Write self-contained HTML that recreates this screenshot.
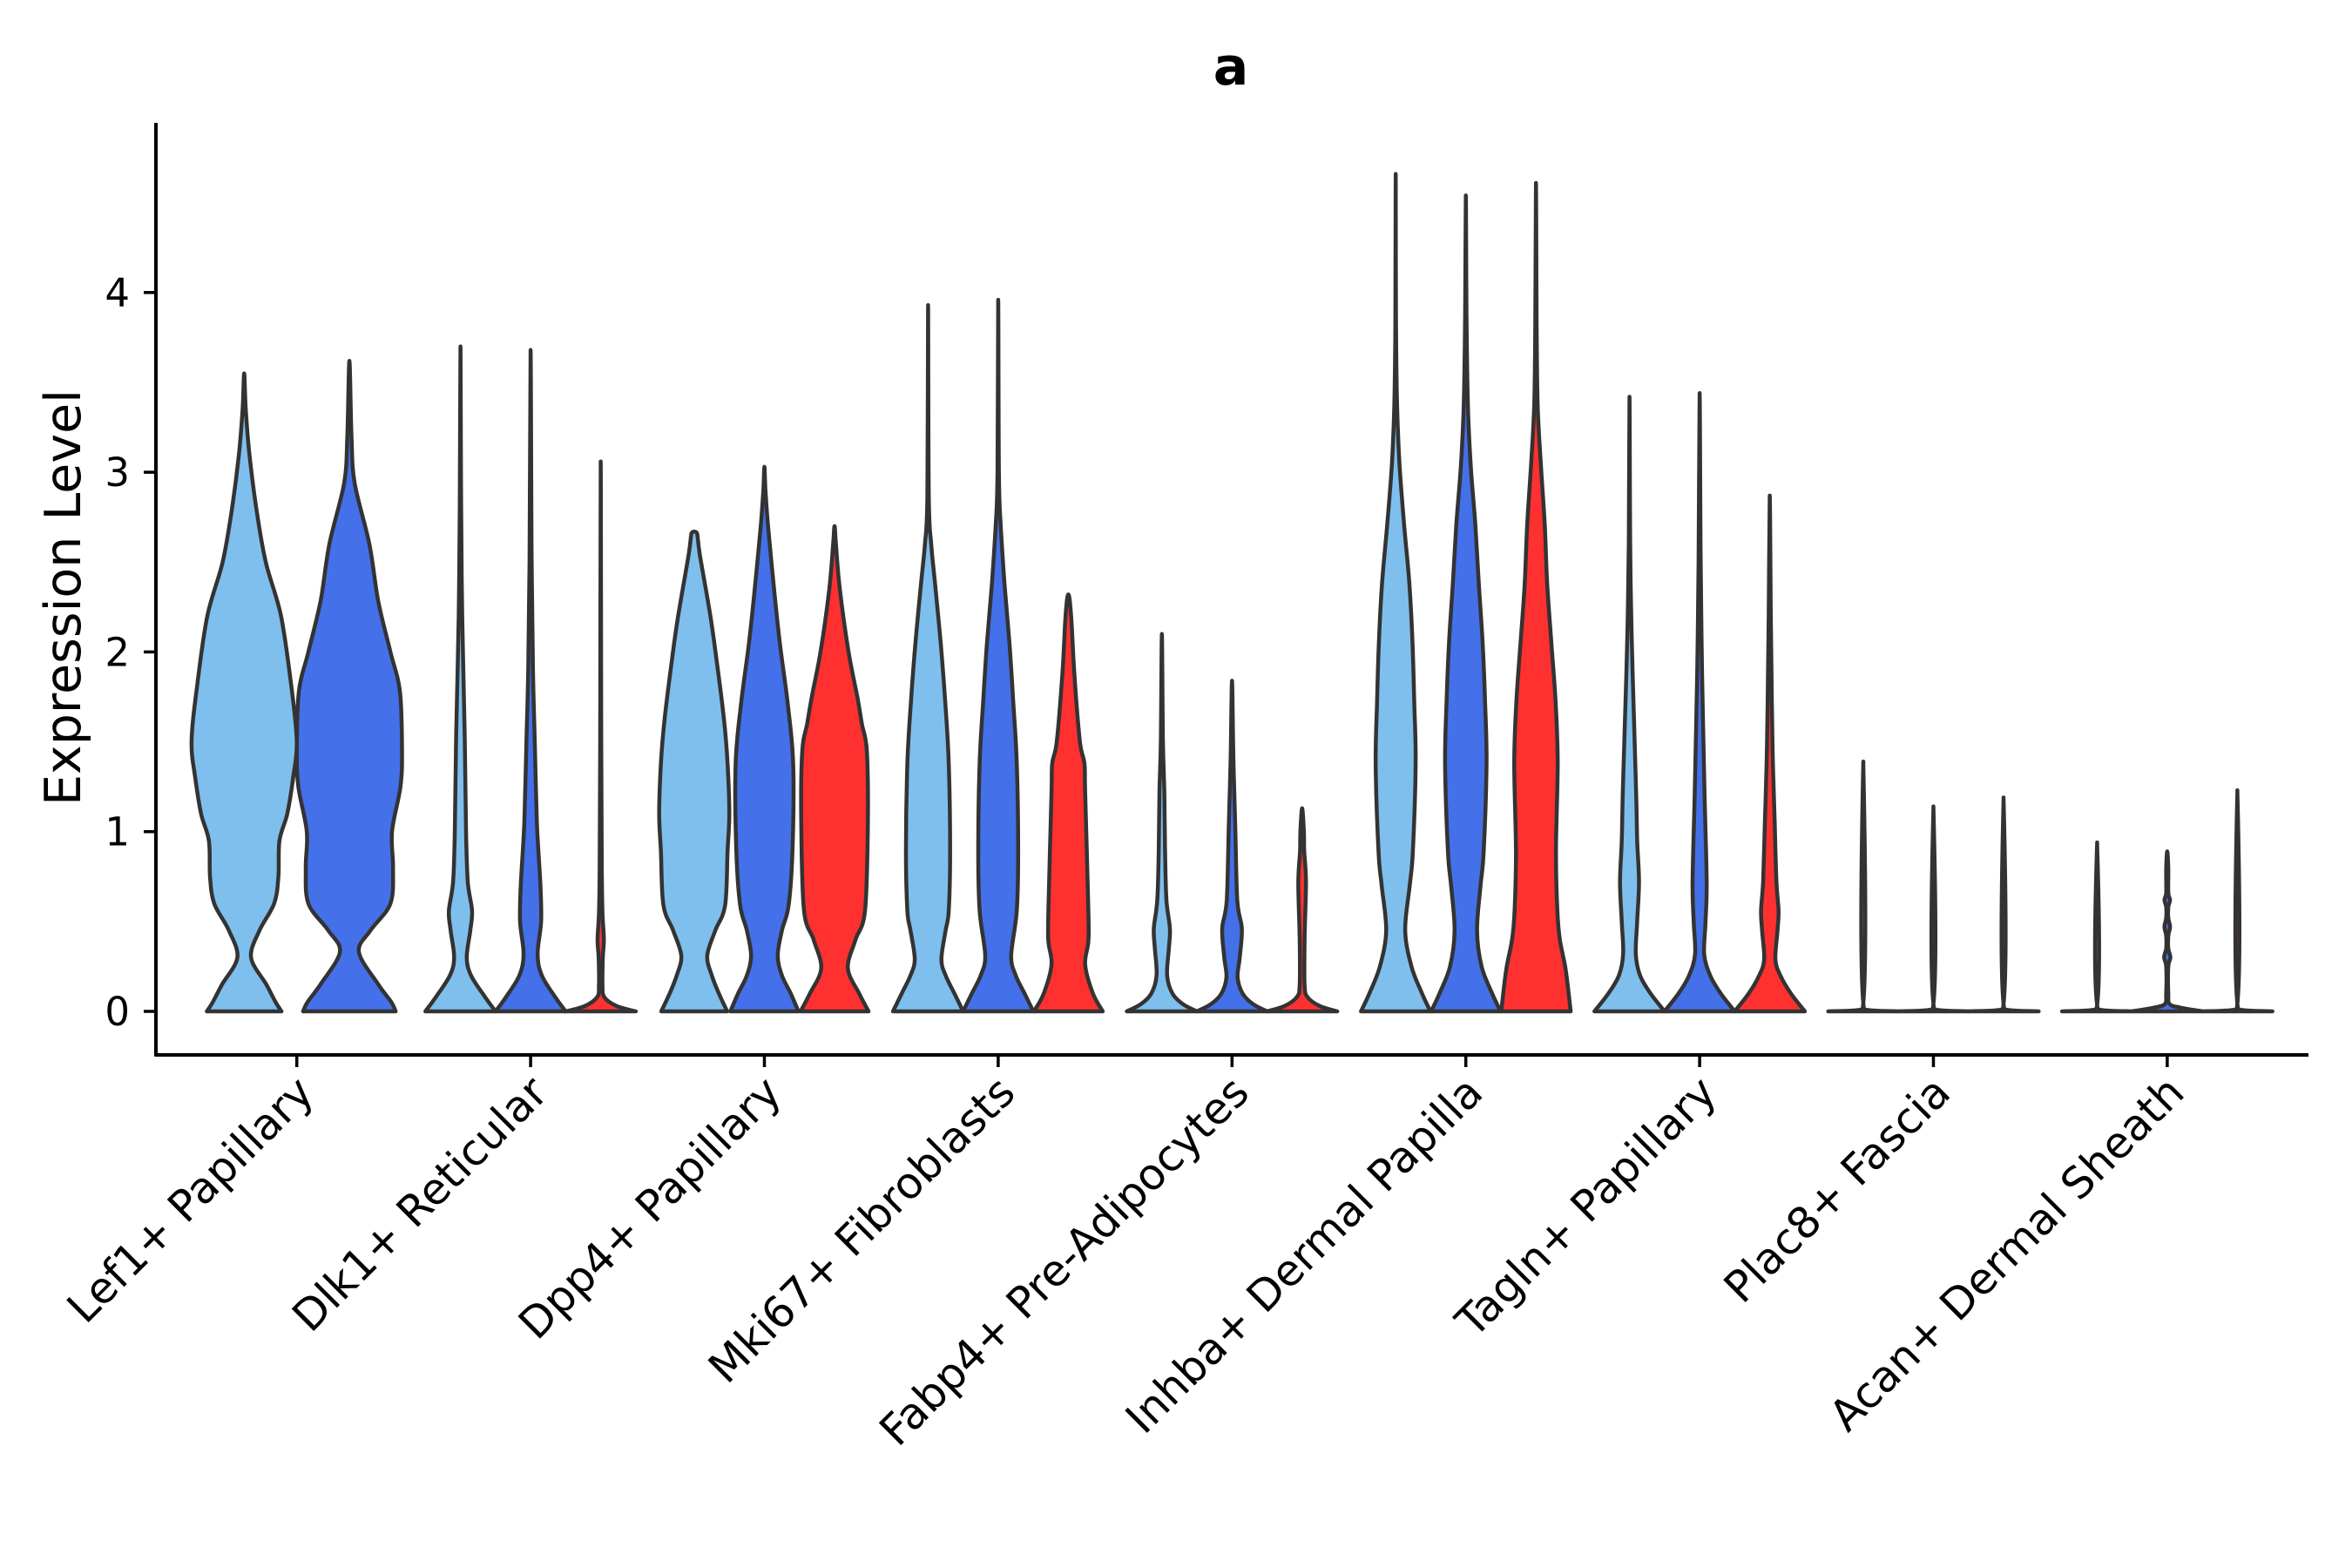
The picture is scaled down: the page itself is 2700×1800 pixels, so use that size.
<!DOCTYPE html>
<html><head><meta charset="utf-8"><style>
html,body{margin:0;padding:0;background:#fff;}
svg{display:block;font-family:"DejaVu Sans","Liberation Sans",sans-serif;}
</style></head><body>
<svg id="chart" width="2700" height="1800" viewBox="0 0 2700 1800" xmlns="http://www.w3.org/2000/svg">
<text x="1413" y="97" text-anchor="middle" font-size="60" font-weight="bold">a</text>
<text transform="translate(92,686) rotate(-90)" text-anchor="middle" font-size="57">Expression Level</text>
<g id="plot"></g>
</svg>
<script>
const categories = ["Lef1+ Papillary","Dlk1+ Reticular","Dpp4+ Papillary","Mki67+ Fibroblasts","Fabp4+ Pre-Adipocytes","Inhba+ Dermal Papilla","Tagln+ Papillary","Plac8+ Fascia","Acan+ Dermal Sheath"];
const groupNames = ["light","dark","red"];
const groupColors = ["#7fbfed","#4470ea","#ff3030"];
const yTicks = [0,1,2,3,4];
// violin profiles: [expression value, relative half-width]
const lef1Light=[[0,.71],[.05,.6],[.15,.42],[.3,.13],[.45,.29],[.6,.57],[.75,.65],[.95,.67],[1.1,.82],[1.3,.93],[1.5,1],[1.8,.9],[2.2,.7],[2.5,.41],[2.8,.23],[3.1,.1],[3.35,.03],[3.55,0]];
const lef1Dark=[[0,.88],[.05,.8],[.15,.55],[.33,.18],[.45,.4],[.6,.78],[.8,.83],[1.0,.81],[1.25,.97],[1.45,1],[1.78,.96],[2.0,.78],[2.28,.55],[2.6,.38],[2.94,.1],[3.2,.04],[3.62,0]];
const dlk1Light=[[0,1],[.08,.7],[.2,.3],[.3,.18],[.45,.28],[.56,.33],[.72,.21],[1.0,.16],[1.55,.12],[2.2,.05],[2.8,.02],[3.7,0]];
const dlk1Dark=[[0,1],[.08,.7],[.2,.32],[.32,.2],[.5,.3],[.7,.28],[1.05,.18],[1.5,.12],[1.88,.07],[2.5,.03],[3.68,0]];
const dlk1Red=[[0,1],[.03,.45],[.08,.1],[.15,.05],[.3,.06],[.4,.09],[.55,.05],[.8,.03],[1.5,.015],[3.06,0]];
const dpp4Light=[[0,.94],[.1,.7],[.2,.5],[.31,.37],[.45,.6],[.59,.88],[.89,.95],[1.1,1],[1.38,.95],[1.62,.85],[1.95,.64],[2.2,.46],[2.54,.16],[2.66,.08],[2.67,0]];
const dpp4Dark=[[0,.97],[.1,.75],[.2,.5],[.31,.38],[.45,.5],[.59,.69],[.89,.8],[1.38,.82],[1.72,.66],[2.05,.44],[2.38,.26],[2.71,.1],[2.9,.03],[3.03,0]];
const dpp4Red=[[0,.97],[.1,.7],[.24,.38],[.4,.6],[.56,.87],[1.05,.95],[1.45,.92],[1.6,.78],[1.75,.65],[2.0,.4],[2.35,.15],[2.6,.04],[2.7,0]];
const mki67Light=[[0,1],[.1,.75],[.2,.5],[.29,.38],[.45,.5],[.56,.59],[.89,.63],[1.38,.59],[1.72,.49],[2.05,.36],[2.38,.2],[2.6,.09],[2.87,.02],[3.93,0]];
const mki67Dark=[[0,1],[.1,.75],[.2,.5],[.31,.37],[.56,.53],[.89,.57],[1.38,.53],[1.72,.43],[2.05,.32],[2.38,.18],[2.71,.07],[3.0,.02],[3.96,0]];
const mki67Red=[[0,.98],[.1,.7],[.26,.48],[.39,.57],[.56,.57],[1.22,.48],[1.38,.46],[1.5,.33],[1.88,.17],[2.2,.08],[2.32,0]];
const fabp4Light=[[0,1],[.04,.6],[.1,.3],[.2,.15],[.35,.2],[.46,.23],[.62,.13],[.9,.09],[1.22,.07],[1.5,.03],[2.1,0]];
const fabp4Dark=[[0,1],[.04,.6],[.1,.3],[.19,.16],[.3,.22],[.46,.28],[.62,.15],[1.05,.09],[1.4,.04],[1.84,0]];
const fabp4Red=[[0,1],[.03,.5],[.08,.15],[.15,.07],[.4,.07],[.72,.11],[.89,.06],[1.0,.05],[1.13,0]];
const inhbaLight=[[0,.99],[.1,.75],[.25,.45],[.45,.27],[.7,.4],[.89,.49],[1.38,.57],[1.72,.53],[2.05,.48],[2.38,.39],[2.71,.24],[3.04,.11],[3.37,.04],[3.8,.01],[4.66,0]];
const inhbaDark=[[0,.99],[.1,.75],[.25,.45],[.45,.32],[.7,.42],[.89,.51],[1.38,.59],[1.72,.55],[2.05,.48],[2.38,.37],[2.71,.27],[3.04,.14],[3.37,.06],[3.87,.02],[4.54,0]];
const inhbaRed=[[0,.99],[.23,.85],[.4,.68],[.56,.61],[.89,.57],[1.38,.62],[1.72,.56],[2.05,.44],[2.38,.32],[2.71,.25],[3.04,.14],[3.37,.05],[3.8,.02],[4.61,0]];
const taglnLight=[[0,1],[.1,.6],[.2,.3],[.32,.18],[.5,.22],[.72,.27],[.95,.22],[1.22,.19],[1.88,.09],[2.2,.05],[2.6,.02],[3.42,0]];
const taglnDark=[[0,1],[.1,.6],[.2,.3],[.32,.13],[.5,.17],[.72,.2],[1.22,.14],[1.88,.07],[2.5,.03],[3.44,0]];
const taglnRed=[[0,1],[.1,.6],[.2,.3],[.29,.16],[.45,.22],[.56,.25],[.72,.19],[1.05,.14],[1.38,.09],[1.72,.06],[2.2,.03],[2.87,0]];
const plac8Light=[[0,1],[.012,.02],[1.39,0]];
const plac8Dark=[[0,1],[.012,.02],[1.14,0]];
const plac8Red=[[0,1],[.012,.02],[1.19,0]];
const acanLight=[[0,1],[.012,.02],[.94,0]];
const acanDark=[[0,1],[.02,.4],[.04,.07],[.1,.03],[.25,.03],[.3,.09],[.35,.03],[.42,.03],[.47,.08],[.52,.03],[.58,.03],[.62,.08],[.66,.03],[.8,.03],[.89,0]];
const acanRed=[[0,1],[.012,.02],[1.23,0]];
const violins=[
 [lef1Light,lef1Dark],
 [dlk1Light,dlk1Dark,dlk1Red],
 [dpp4Light,dpp4Dark,dpp4Red],
 [mki67Light,mki67Dark,mki67Red],
 [fabp4Light,fabp4Dark,fabp4Red],
 [inhbaLight,inhbaDark,inhbaRed],
 [taglnLight,taglnDark,taglnRed],
 [plac8Light,plac8Dark,plac8Red],
 [acanLight,acanDark,acanRed]
];
const groupIdx=[[0,1],[0,1,2],[0,1,2],[0,1,2],[0,1,2],[0,1,2],[0,1,2],[0,1,2],[0,1,2]];

const NS="http://www.w3.org/2000/svg";
const plot=document.getElementById('plot');
const X0=179, X1=2650, Ytop=141, Ybot=1211;
const yZero=1161, yUnit=206.3;
const xFirst=340.7, xStep=268.4;
function yScale(v){return yZero - v*yUnit;}
function xBand(i){return xFirst + i*xStep;}
function mk(tag,attrs){const e=document.createElementNS(NS,tag);for(const k in attrs)e.setAttribute(k,attrs[k]);return e;}

const yAxis=mk('line',{x1:X0,y1:Ytop,x2:X0,y2:Ybot+1.5,stroke:'#000','stroke-width':4});


plot.appendChild(yAxis);
const xAxis=mk('line',{x1:X0-1.5,y1:Ybot,x2:X1,y2:Ybot,stroke:'#000','stroke-width':4});


plot.appendChild(xAxis);

yTicks.forEach(t=>{
  const y=yScale(t);
  const tk=mk('line',{x1:X0-14,y1:y,x2:X0,y2:y,stroke:'#000','stroke-width':3.5});
  
  
  plot.appendChild(tk);
  const lb=mk('text',{x:X0-30,y:y+16,'text-anchor':'end','font-size':45});
  
  
  lb.textContent=t;
  plot.appendChild(lb);
});

function clamp(v,a,b){const lo=Math.min(a,b),hi=Math.max(a,b);return Math.max(lo,Math.min(hi,v));}
function smoothPath(pts){
  let d='M'+pts[0][0].toFixed(1)+','+pts[0][1].toFixed(1);
  for(let i=0;i<pts.length-1;i++){
    const p0=pts[Math.max(0,i-1)],p1=pts[i],p2=pts[i+1],p3=pts[Math.min(pts.length-1,i+2)];
    const t=1/6;
    let c1=[p1[0]+(p2[0]-p0[0])*t,p1[1]+(p2[1]-p0[1])*t];
    let c2=[p2[0]-(p3[0]-p1[0])*t,p2[1]-(p3[1]-p1[1])*t];
    c1[1]=clamp(c1[1],p1[1],p2[1]);c2[1]=clamp(c2[1],p1[1],p2[1]);
    d+=' C'+c1[0].toFixed(1)+','+c1[1].toFixed(1)+' '+c2[0].toFixed(1)+','+c2[1].toFixed(1)+' '+p2[0].toFixed(1)+','+p2[1].toFixed(1);
  }
  return d;
}

violins.forEach((set,i)=>{
  const n=set.length;
  const slot=0.9*xStep/n;
  const HW=slot/2;
  set.forEach((prof,j)=>{
    const cx=xBand(i)-0.45*xStep+slot*(j+0.5);
    const right=prof.map(p=>[cx+p[1]*HW,yScale(p[0])]);
    const left=prof.slice().reverse().map(p=>[cx-p[1]*HW,yScale(p[0])]);
    const pts=right.concat(left.slice(1));
    const d=smoothPath(pts)+' Z';
    const g=groupIdx[i][j];
    const path=mk('path',{d:d,fill:groupColors[g],stroke:'#333','stroke-width':4.5,'stroke-linejoin':'round'});
    
    
    plot.appendChild(path);
  });
  const x=xBand(i);
  const tk=mk('line',{x1:x,y1:Ybot,x2:x,y2:Ybot+14,stroke:'#000','stroke-width':3.5});
  
  
  plot.appendChild(tk);
  const lb=mk('text',{'text-anchor':'end','font-size':49.5,transform:'translate('+(x+22)+',1257) rotate(-45)'});
  
  
  lb.textContent=categories[i];
  plot.appendChild(lb);
});
</script>
</body></html>
